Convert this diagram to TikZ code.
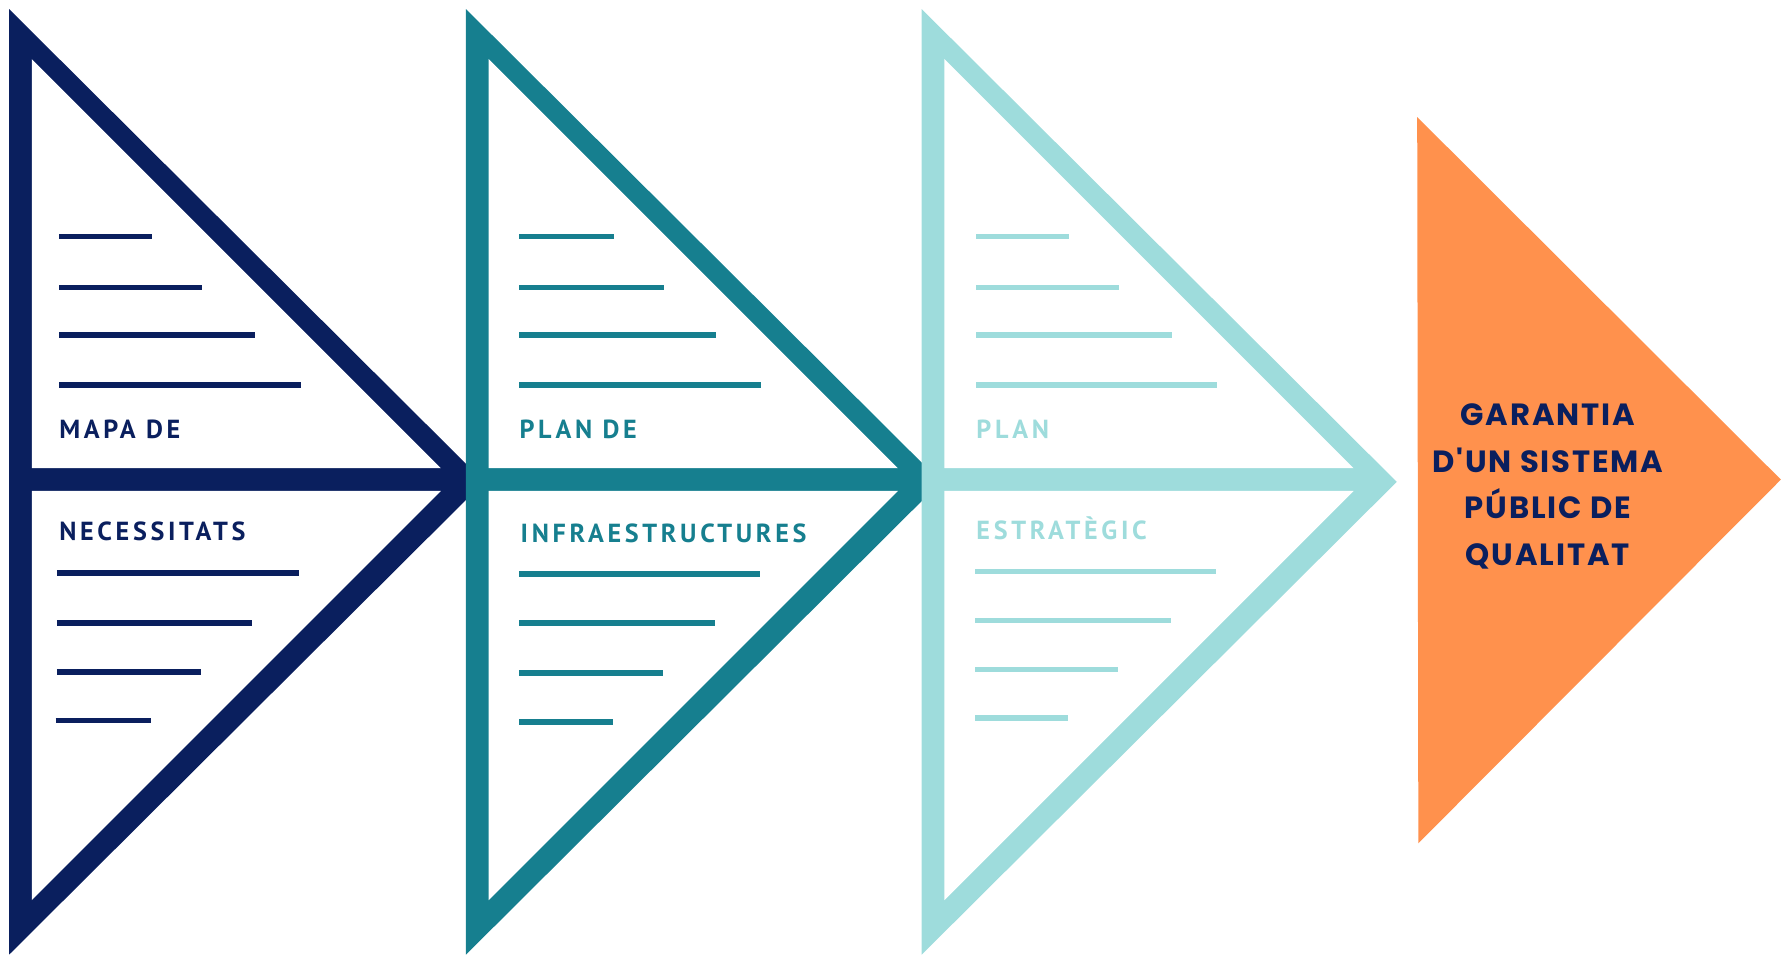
\documentclass[tikz,border=0pt]{standalone}
\usepackage{fontspec}
\newfontfamily\labfont[LetterSpace=14]{PT Sans}
\newfontfamily\goalfont[LetterSpace=6]{Poppins}
\definecolor{navy}{HTML}{0A1F5E}
\definecolor{teal}{HTML}{167F8F}
\definecolor{light}{HTML}{9EDCDC}
\definecolor{orange}{HTML}{FF914D}
\tikzset{
  bar/.style={line width=5pt},
  lab/.style={anchor=base west, inner sep=0pt, font=\labfont\bfseries\fontsize{23}{28}\selectfont},
  goal/.style={inner sep=0pt, align=center, text=navy, font=\goalfont\bfseries\fontsize{27}{41}\selectfont},
}
\begin{document}
\begin{tikzpicture}[x=1pt,y=-1pt]
\useasboundingbox (0,0) rectangle (1568,842);
% arrow triangles
\foreach \ox/\c in {8/navy,410/teal,811/light}{
  \fill[\c] (\ox,8) -- (\ox+418,424) -- (\ox,840) -- cycle;
  \fill[white] (\ox+20,52) -- (\ox+380,412) -- (\ox+20,412) -- cycle;
  \fill[white] (\ox+20,432) -- (\ox+380,432) -- (\ox+20,792) -- cycle;
}
% text lines
\foreach \y/\a/\b in {208/52/134,253/52/178,295/52/224,339/52/265,504/50/263,548/50/222,591/50/177,634/49/133}
  \draw[bar,navy] (\a,\y) -- (\b,\y);
\foreach \y/\a/\b in {208/457/540,253/457/584,295/457/630,339/457/670,505/457/669,548/457/629,592/457/583,635/457/539}
  \draw[bar,teal] (\a,\y) -- (\b,\y);
\foreach \y/\a/\b in {208/859/941,253/859/985,295/859/1031,339/859/1071,503/858/1070,546/858/1030,589/858/984,632/858/940}
  \draw[bar,light] (\a,\y) -- (\b,\y);
% labels
\node[lab,text=navy] (m1) at (52,386) {MAPA DE};
\node[lab,text=navy] (m2) at (52,476) {NECESSITATS};
\node[lab,text=teal] (p1) at (457,386) {PLAN DE};
\node[lab,text=teal] (p2) at (458,477) {INFRAESTRUCTURES};
\node[lab,text=light] (e1) at (859,386) {PLAN};
\node[lab,text=light] (e2) at (859,475) {ESTRATÈGIC};
% goal
\fill[orange] (1247,103) -- (1567,422) -- (1248,742) -- cycle;
\node[goal] (g) at (1362,428) {GARANTIA\\D'UN SISTEMA\\PÚBLIC DE\\QUALITAT};
\end{tikzpicture}
\end{document}
